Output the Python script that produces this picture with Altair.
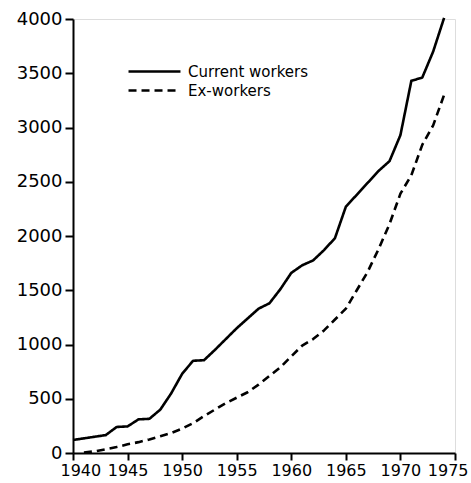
import altair as alt
import pandas as pd

years_current = list(range(1940, 1975))
current = [120, 135, 150, 165, 240, 245, 310, 315, 400, 550,
           730, 850, 855, 950, 1050, 1150, 1240, 1330, 1380, 1510,
           1660, 1730, 1775, 1870, 1980, 2270, 2380, 2490, 2600, 2690,
           2930, 3430, 3460, 3700, 4010]

years_ex = list(range(1941, 1975))
ex = [5, 15, 35, 55, 80, 100, 125, 155, 185,
      225, 275, 340, 400, 460, 510, 560, 630, 710, 790,
      890, 990, 1050, 1130, 1230, 1330, 1500, 1670, 1880, 2110,
      2390, 2560, 2840, 3020, 3300]

series = ["Current workers", "Ex-workers"]

df = pd.concat([
    pd.DataFrame({"year": years_current, "value": current, "series": series[0]}),
    pd.DataFrame({"year": years_ex, "value": ex, "series": series[1]}),
])

FONT = "DejaVu Sans"

chart = alt.Chart(df).mark_line(strokeWidth=2.6, color="black", strokeJoin="round").encode(
    x=alt.X("year:Q",
            scale=alt.Scale(domain=[1940, 1975], nice=False, zero=False),
            axis=alt.Axis(values=list(range(1940, 1980, 5)), format="d", title=None,
                          grid=False, domainColor="black", domainWidth=2,
                          tickColor="black", tickWidth=2, tickSize=7,
                          labelOverlap=False, labelFlush=True, labelFlushOffset=13,
                          labelFont=FONT, labelFontSize=16, labelColor="black",
                          labelPadding=2)),
    y=alt.Y("value:Q",
            scale=alt.Scale(domain=[0, 4000], nice=False),
            axis=alt.Axis(values=list(range(0, 4500, 500)), format="d", title=None,
                          grid=False, domainColor="black", domainWidth=2,
                          tickColor="black", tickWidth=2, tickSize=8,
                          labelOverlap=False, labelFlush=False,
                          labelFont=FONT, labelFontSize=18, labelColor="black",
                          labelPadding=3)),
    strokeDash=alt.StrokeDash("series:N",
                              scale=alt.Scale(domain=series, range=[[1, 0], [8, 5]]),
                              legend=alt.Legend(title=None, orient="none",
                                                legendX=74, legendY=45,
                                                symbolType="M-5,0H5",
                                                symbolSize=108,
                                                symbolStrokeWidth=2.6,
                                                symbolStrokeColor="black",
                                                symbolFillColor="transparent",
                                                labelFont=FONT, labelFontSize=15,
                                                labelColor="black",
                                                rowPadding=3, labelOffset=26)),
    order="year:Q",
    detail="series:N",
).properties(
    width=382, height=434,
    autosize=alt.AutoSizeParams(type="none"),
    padding={"left": 73, "top": 19, "right": 16, "bottom": 30},
).configure_view(stroke=None).configure(background="white")

chart.save("out.html", embed_options={"renderer": "svg", "actions": False})
